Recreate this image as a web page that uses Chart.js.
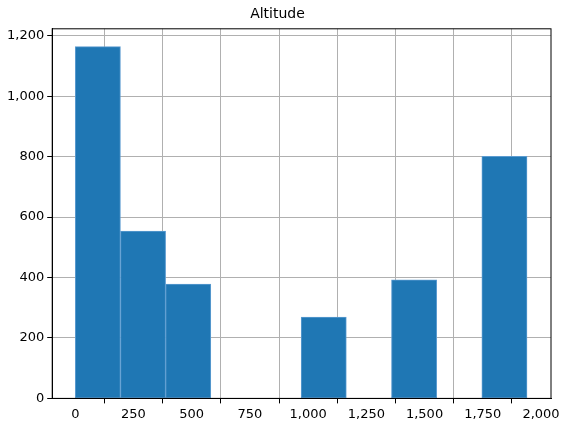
<!DOCTYPE html>
<html>
<head>
<script src="https://cdn.jsdelivr.net/npm/chart.js@4"></script>
<style>body{margin:0;background:#fff}#wrap{width:568px;height:435px}</style>
</head>
<body>
<div id="wrap"><canvas id="myChart"></canvas></div>
<script>
// histogram of Altitude, 10 bins from 0 to 1940
var binCenters = [97, 291, 485, 679, 873, 1067, 1261, 1455, 1649, 1843];
var counts = [1164, 554, 378, 0, 0, 269, 0, 392, 0, 801];
var xTicks = [0, 250, 500, 750, 1000, 1250, 1500, 1750, 2000];
var yTicks = [0, 200, 400, 600, 800, 1000, 1200];

var chartData = binCenters.map(function (c, i) {
  return { x: c, y: counts[i] };
});

function keepTicks(list) {
  return function (axis) {
    axis.ticks = list.map(function (v) { return { value: v }; });
  };
}

var font = { family: "DejaVu Sans", size: 13 };
Chart.defaults.color = "#000";

new Chart(document.getElementById("myChart"), {
  type: "bar",
  data: {
    datasets: [{
      label: "Altitude",
      data: chartData,
      backgroundColor: "#1f77b4",
      borderColor: "#5b9bd0",
      borderWidth: 1,
      borderSkipped: false,
      barPercentage: 1,
      categoryPercentage: 1,
    }],
  },
  options: {
    responsive: true,
    maintainAspectRatio: false,
    animation: false,
    layout: { padding: { left: 4, right: 17, top: 6, bottom: 10 } },
    plugins: {
      legend: { display: false },
      tooltip: { enabled: false },
      title: { display: true, text: "Altitude", font: { family: "DejaVu Sans", size: 14, weight: "normal" }, padding: { top: 0, bottom: 6 } },
    },
    scales: {
      x: {
        type: "linear", min: -99, max: 2043, z: 1, offset: false,
        afterBuildTicks: keepTicks(xTicks),
        ticks: { font: font, maxRotation: 0, autoSkip: false },
        grid: { color: "#b0b0b0", tickColor: "#000", tickLength: 5 },
        border: { color: "#000" },
      },
      y: {
        min: 0, max: 1223, z: 1,
        afterBuildTicks: keepTicks(yTicks),
        ticks: { font: font, autoSkip: false },
        grid: { color: "#b0b0b0", tickColor: "#000", tickLength: 5 },
        border: { color: "#000" },
      },
    },
  },
  plugins: [{
    id: "frame",
    afterDraw: function (chart) {
      var a = chart.chartArea, ctx = chart.ctx;
      ctx.save();
      ctx.strokeStyle = "#000";
      ctx.lineWidth = 1;
      ctx.strokeRect(a.left, a.top, a.right - a.left, a.bottom - a.top);
      ctx.restore();
    },
  }],
});
</script>
</body>
</html>
